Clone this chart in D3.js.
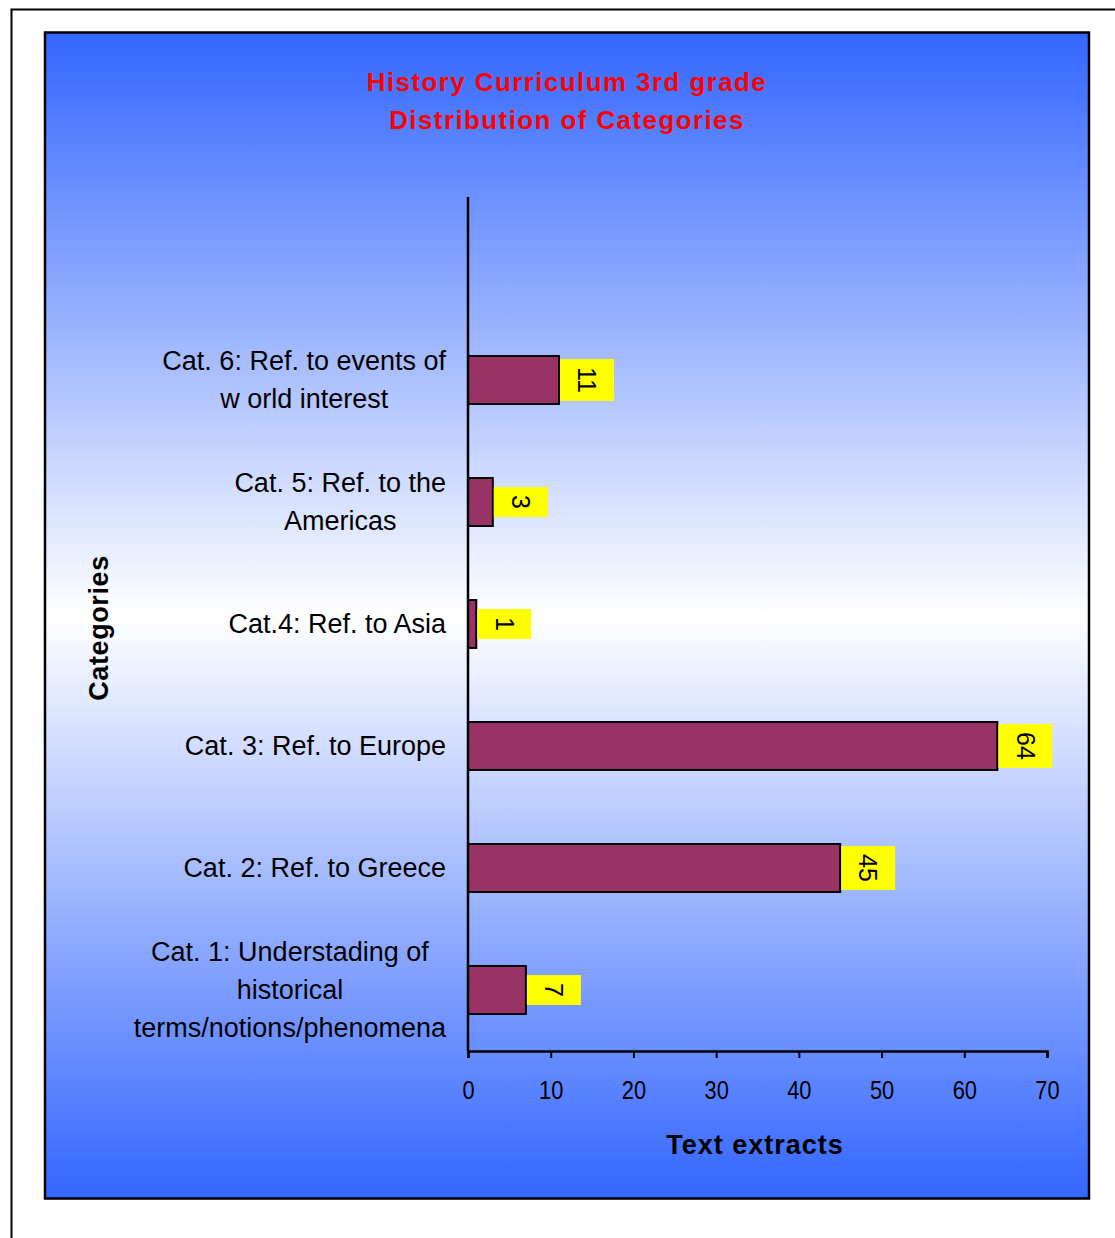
<!DOCTYPE html>
<html><head><meta charset="utf-8">
<script src="https://cdn.jsdelivr.net/npm/d3@7"></script>
<style>
html,body{margin:0;padding:0;background:#fff;}
svg{display:block;}
text{font-family:"Liberation Sans",Arial,sans-serif;}
</style></head>
<body>
<script>
// ---- data ----
const titleLines = ["History Curriculum  3rd grade", "Distribution of Categories"];
const categories = [
  ["Cat. 1: Understading of", "historical", "terms/notions/phenomena"],
  ["Cat. 2: Ref. to Greece"],
  ["Cat. 3: Ref. to Europe"],
  ["Cat.4: Ref. to Asia"],
  ["Cat. 5: Ref. to the", "Americas"],
  ["Cat. 6: Ref. to events of", "w orld interest"]
];
const values = [7, 45, 64, 1, 3, 11];
const xTicks = [0, 10, 20, 30, 40, 50, 60, 70];
const xTitle = "Text extracts";
const yTitle = "Categories";

const W = 1115, H = 1238;
const svg = d3.select("body").append("svg").attr("width", W).attr("height", H);

const defs = svg.append("defs");
const grad = defs.append("linearGradient").attr("id","bg").attr("x1",0).attr("y1",0).attr("x2",0).attr("y2",1);
grad.append("stop").attr("offset","0%").attr("stop-color","#3366FF");
grad.append("stop").attr("offset","50%").attr("stop-color","#FFFFFF");
grad.append("stop").attr("offset","100%").attr("stop-color","#3366FF");

// outer frame
svg.append("rect").attr("x",11.5).attr("y",9.5).attr("width",1120).attr("height",1250)
  .attr("fill","#fff").attr("stroke","#000").attr("stroke-width",2);
// panel
svg.append("rect").attr("x",45).attr("y",32.5).attr("width",1044).attr("height",1166)
  .attr("fill","url(#bg)").attr("stroke","#000").attr("stroke-width",2.5);

// title
svg.append("g").selectAll("text").data(titleLines).join("text")
  .attr("x",567).attr("y",(d,i)=>91+i*38)
  .attr("text-anchor","middle").attr("fill","#FF0000")
  .attr("font-weight","bold").attr("font-size",26).attr("letter-spacing",1.4)
  .text(d=>d);

const x = d3.scaleLinear().domain([0,70]).range([468,1047]);
const slots = ["", ...categories.map((c,i)=>"c"+i).reverse()];
const y = d3.scaleBand().domain(slots).range([197,1051]).paddingInner(0.607).paddingOuter(0.3035);
const key = i => "c"+i;

// bars
svg.append("g").selectAll("rect").data(values).join("rect")
  .attr("x",x(0)).attr("y",(d,i)=>y(key(i)))
  .attr("width",d=>x(d)-x(0)).attr("height",y.bandwidth())
  .attr("fill","#993366").attr("stroke","#000").attr("stroke-width",2);

// axes
const gx = svg.append("g").attr("transform",`translate(0,${y.range()[1]})`)
  .call(d3.axisBottom(x).tickValues(xTicks).tickSize(7).tickPadding(23));
gx.select(".domain").attr("stroke","#000").attr("stroke-width",2.5);
gx.selectAll(".tick line").attr("stroke","#000").attr("stroke-width",2);
gx.selectAll(".tick text").attr("font-size",26).attr("font-family","Liberation Sans, Arial, sans-serif")
  .attr("fill","#000").attr("transform","scale(0.84,1)");

svg.append("line").attr("x1",x(0)).attr("x2",x(0)).attr("y1",y.range()[0]).attr("y2",y.range()[1])
  .attr("stroke","#000").attr("stroke-width",2.5);

// category labels
const catG = svg.append("g");
categories.forEach((lines,i)=>{
  const cy = y(key(i)) + y.bandwidth()/2;
  const g = catG.append("g");
  const t = g.selectAll("text").data(lines).join("text")
    .attr("y",(d,j)=>cy + (j-(lines.length-1)/2)*38 + 9)
    .attr("font-size",27).attr("fill","#000").attr("text-anchor","middle").text(d=>d);
  let maxW = 0; t.each(function(){ maxW = Math.max(maxW, this.getComputedTextLength()); });
  t.attr("x", 446 - maxW/2);
});

// data labels
const lab = svg.append("g");
values.forEach((v,i)=>{
  const cy = y(key(i)) + y.bandwidth()/2;
  const cx = x(v) + 28;
  const g = lab.append("g").attr("transform",`translate(${cx},${cy})`);
  const t = g.append("text").attr("transform","rotate(90)").attr("text-anchor","middle")
    .attr("dy","0.35em").attr("font-size",25).attr("fill","#000").text(String(v));
  const len = t.node().getComputedTextLength();
  g.insert("rect","text").attr("x",-27).attr("y",-(len+16)/2).attr("width",54).attr("height",len+16).attr("fill","#FFFF00");
});

// axis titles
svg.append("text").attr("x",755).attr("y",1154).attr("text-anchor","middle")
  .attr("font-weight","bold").attr("font-size",27).attr("letter-spacing",1).text(xTitle);
svg.append("text").attr("transform","translate(108,628) rotate(-90)").attr("text-anchor","middle")
  .attr("font-weight","bold").attr("font-size",27).attr("letter-spacing",0.6).text(yTitle);
</script>
</body></html>
